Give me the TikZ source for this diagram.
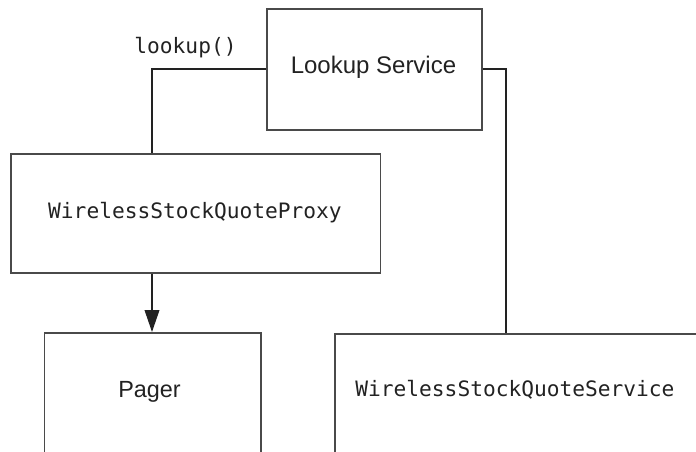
\documentclass[tikz,border=0pt]{standalone}
\usepackage{fontspec}
\setmainfont{Liberation Sans}
\newfontfamily\codefont{DejaVu Sans Mono}
\usetikzlibrary{arrows.meta}
\definecolor{ink}{HTML}{222222}
\definecolor{edge}{HTML}{4A4A4A}
\tikzset{
  box/.style={draw=edge, line width=0.75pt, rectangle, inner sep=0pt, anchor=north west},
  wire/.style={draw=ink, line width=0.6pt},
  sanslabel/.style={text=ink, font=\fontsize{12}{14}\selectfont, inner sep=0pt},
  codelabel/.style={text=ink, font=\codefont\fontsize{10.6}{12}\selectfont, inner sep=0pt},
}
\begin{document}
\begin{tikzpicture}[x=0.5pt, y=-0.5pt]
  \useasboundingbox (0,0) rectangle (696,451);
  \clip (0,0) rectangle (696,451);

  % boxes
  \node[box, minimum width=107.5pt, minimum height=60.5pt] (lookup) at (266,8) {};
  \node[box, minimum width=184.75pt, minimum height=59.5pt] (proxy) at (10,153) {};
  \node[box, minimum width=108.25pt, minimum height=80pt] (pager) at (43.5,332) {};
  \node[box, minimum width=200pt, minimum height=80pt] (service) at (334,333) {};

  % labels
  \node[sanslabel] (lookuptext) at (373.5,67.5) {Lookup Service};
  \node[codelabel] (proxytext) at (195,213) {WirelessStockQuoteProxy};
  \node[sanslabel, font=\fontsize{11.7}{14}\selectfont] (pagertext) at (149.5,391.5) {Pager};
  \node[codelabel, anchor=west] (servicetext) at (355,390) {WirelessStockQuoteService};
  \node[codelabel, anchor=base] (calltext) at (185.5,53) {lookup()};

  % connectors
  \coordinate (leftbend) at (152,69);
  \coordinate (rightbend) at (506,69);
  \draw[wire] (lookup.west |- leftbend) -- (leftbend) -- (leftbend |- proxy.north);
  \draw[wire, -{Triangle[length=11pt,width=7.4pt]}] (leftbend |- proxy.south) -- (leftbend |- pager.north);
  \draw[wire] (lookup.east |- rightbend) -- (rightbend) -- (rightbend |- service.north);
\end{tikzpicture}
\end{document}
